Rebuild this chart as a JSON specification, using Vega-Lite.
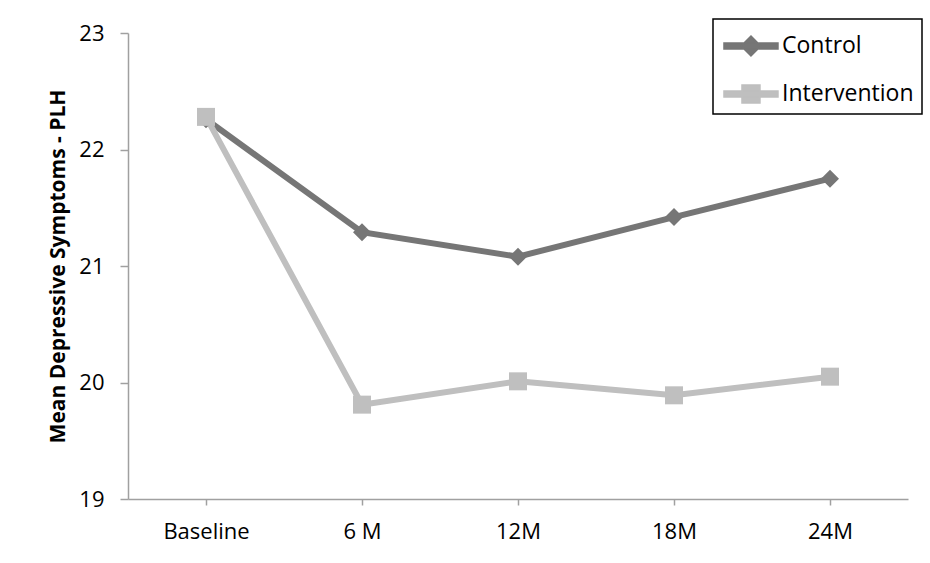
{
  "$schema": "https://vega.github.io/schema/vega-lite/v6.json",
  "width": 780,
  "height": 466,
  "autosize": "none",
  "padding": {"left": 128, "top": 33, "right": 22, "bottom": 64},
  "background": "white",
  "config": {"view": {"stroke": null}, "font": "Open Sans"},
  "data": {
    "values": [
      {"time": "Baseline", "group": "Control", "value": 22.26},
      {"time": "6 M", "group": "Control", "value": 21.29},
      {"time": "12M", "group": "Control", "value": 21.08},
      {"time": "18M", "group": "Control", "value": 21.42},
      {"time": "24M", "group": "Control", "value": 21.75},
      {"time": "Baseline", "group": "Intervention", "value": 22.28},
      {"time": "6 M", "group": "Intervention", "value": 19.81},
      {"time": "12M", "group": "Intervention", "value": 20.01},
      {"time": "18M", "group": "Intervention", "value": 19.89},
      {"time": "24M", "group": "Intervention", "value": 20.05}
    ]
  },
  "encoding": {
    "x": {
      "field": "time",
      "type": "nominal",
      "sort": ["Baseline", "6 M", "12M", "18M", "24M"],
      "scale": {"type": "point", "padding": 0.5},
      "axis": {
        "title": null,
        "labelAngle": 0,
        "labelFontSize": 22,
        "labelColor": "#000000",
        "labelPadding": 16,
        "tickSize": 6,
        "tickColor": "#A0A0A0",
        "domainColor": "#A0A0A0",
        "domainWidth": 1.5,
        "tickWidth": 1.5
      }
    },
    "y": {
      "field": "value",
      "type": "quantitative",
      "scale": {"domain": [19, 23], "zero": false, "nice": false},
      "axis": {
        "title": "Mean Depressive Symptoms - PLH",
        "titleFontSize": 21,
        "titleFontWeight": "bold",
        "titleColor": "#000000",
        "titlePadding": 10,
        "values": [19, 20, 21, 22, 23],
        "grid": false,
        "labelFontSize": 22,
        "labelColor": "#000000",
        "labelPadding": 16,
        "tickSize": 8,
        "tickColor": "#A0A0A0",
        "domainColor": "#A0A0A0",
        "domainWidth": 1.5,
        "tickWidth": 1.5
      }
    },
    "color": {
      "field": "group",
      "type": "nominal",
      "scale": {"domain": ["Control", "Intervention"], "range": ["#767676", "#BFBFBF"]},
      "legend": {
        "title": null,
        "orient": "none",
        "legendX": 585,
        "legendY": -14,
        "padding": 8,
        "rowPadding": 16,
        "labelFontSize": 23,
        "labelColor": "#000000",
        "labelOffset": 23,
        "symbolSize": 1296,
        "strokeColor": "#000000",
        "encode": {
          "legend": {"update": {"stroke": {"value": "#000000"}, "strokeWidth": {"value": 1.5}}},
          "symbols": {
            "update": {
              "shape": {"signal": "datum.value === 'Control' ? 'M-0.89,-0.17 L2.11,-0.17 L2.11,0.17 L-0.89,0.17 Z M0.61,-0.55 L1.16,0 L0.61,0.55 L0.06,0 Z' : 'M-0.89,-0.17 L2.11,-0.17 L2.11,0.17 L-0.89,0.17 Z M0.11,-0.5 L1.11,-0.5 L1.11,0.5 L0.11,0.5 Z'"},
              "fill": {"signal": "datum.value === 'Control' ? '#767676' : '#BFBFBF'"},
              "stroke": {"value": "transparent"},
              "opacity": {"value": 1},
              "size": {"value": 1296}
            }
          }
        }
      }
    }
  },
  "layer": [
    {"mark": {"type": "line", "strokeWidth": 6}},
    {
      "transform": [{"filter": "datum.group === 'Control'"}],
      "mark": {"type": "point", "filled": true, "opacity": 1, "size": 324, "shape": "diamond"}
    },
    {
      "transform": [{"filter": "datum.group === 'Intervention'"}],
      "mark": {"type": "point", "filled": true, "opacity": 1, "size": 324, "shape": "square"}
    }
  ]
}
